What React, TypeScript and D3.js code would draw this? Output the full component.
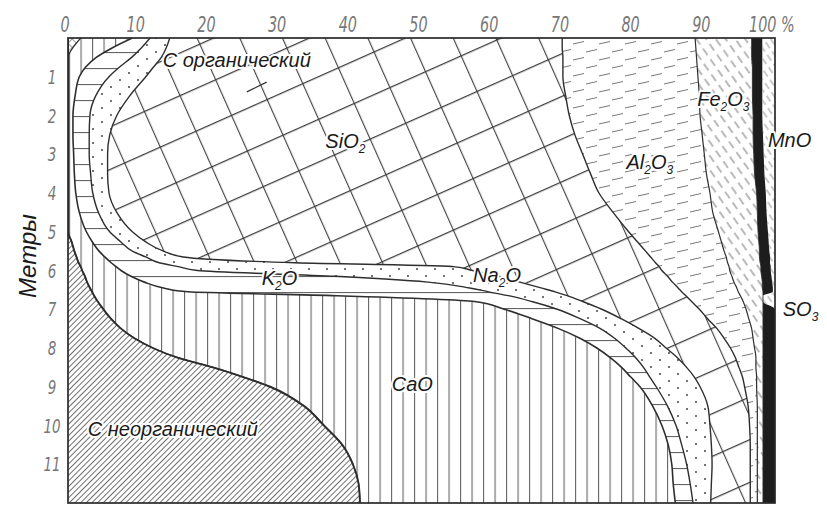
import React from "react";
import * as d3 from "d3";

// Depth below surface, metres
const depths = [0, 0.25, 0.5, 0.75, 1, 1.5, 2, 2.5, 3, 3.5, 4, 4.5, 5, 5.25, 5.5, 5.65, 5.8, 5.9, 6, 6.15, 6.3, 6.45, 6.55, 6.65, 6.8, 7, 7.25, 7.5, 7.75, 8, 8.25, 8.5, 8.75, 9, 9.5, 10, 10.5, 11, 11.5, 12];

// Composition of the profile, % at each depth
const cInorganic = [0, 0, 0, 0, 0, 0, 0, 0, 0, 0, 0, 0, 0, 0.5, 0.9, 1.2, 1.5, 1.8, 2.0, 2.4, 2.7, 3.1, 3.4, 3.7, 4.2, 5.0, 6.1, 7.5, 9.4, 12.0, 15.5, 20.5, 24.8, 28.6, 33.4, 36.2, 38.8, 40.3, 41.1, 41.3];
const cOrganic = [1.8, 0.7, 0, 0, 0, 0, 0, 0, 0, 0, 0, 0, 0, 0, 0, 0, 0, 0, 0, 0, 0, 0, 0, 0, 0, 0, 0, 0, 0, 0, 0, 0, 0, 0, 0, 0, 0, 0, 0, 0];
const cao = [7.3, 5.6, 4.0, 2.5, 1.6, 1.0, 0.7, 0.7, 0.8, 0.9, 1.1, 1.6, 2.6, 2.9, 3.5, 4.0, 4.6, 5.0, 5.5, 6.5, 8.1, 10.4, 13.6, 34.3, 53.3, 56.7, 59.6, 61.9, 63.0, 62.8, 61.2, 57.8, 54.8, 52.3, 49.3, 47.8, 46.1, 45.1, 44.5, 44.6];
const k2o = [2.5, 4.1, 5.0, 4.8, 4.2, 2.9, 2.4, 2.3, 2.2, 2.3, 2.4, 2.7, 3.3, 4.0, 4.7, 5.8, 6.8, 8.8, 10.8, 28.9, 40.1, 43.3, 42.5, 24.3, 8.1, 7.5, 6.8, 5.9, 4.9, 4.1, 3.6, 3.1, 2.7, 2.3, 2.1, 2.0, 1.9, 2.1, 2.4, 2.5];
const na2o = [2.8, 3.5, 4.2, 4.8, 5.2, 4.8, 3.8, 2.9, 2.6, 2.4, 2.3, 2.6, 3.2, 3.5, 4.4, 5.3, 19.2, 38.9, 38.9, 23.1, 13.0, 10.1, 9.4, 8.3, 7.2, 6.3, 5.8, 5.5, 5.7, 5.7, 5.9, 6.1, 6.3, 6.2, 5.7, 4.8, 4.2, 3.6, 3.0, 2.5];
const sio2 = [55.5, 56.0, 56.8, 57.9, 59.0, 61.7, 64.0, 65.8, 67.2, 68.3, 69.3, 70.2, 70.2, 69.6, 68.2, 66.1, 51.0, 29.1, 26.8, 23.9, 21.6, 19.4, 17.9, 16.8, 15.4, 13.8, 12.2, 11.0, 9.8, 9.1, 8.2, 7.4, 6.8, 6.3, 5.7, 5.6, 5.5, 5.4, 5.5, 5.6];
const al2o3 = [18.8, 18.9, 18.9, 19.0, 19.1, 18.9, 18.5, 18.0, 17.2, 16.4, 15.7, 14.1, 12.7, 11.9, 11.1, 10.7, 10.2, 9.9, 9.6, 9.1, 8.7, 8.3, 8.0, 7.7, 7.3, 6.6, 5.8, 4.9, 4.1, 3.4, 2.9, 2.4, 2.0, 1.7, 1.3, 1.1, 1.0, 1.0, 1.0, 1.0];
const fe2o3 = [8.0, 7.9, 7.8, 7.8, 7.7, 7.5, 7.5, 7.2, 7.0, 6.8, 6.6, 6.3, 5.6, 5.3, 5.0, 4.7, 4.6, 4.5, 4.4, 4.2, 4.0, 3.6, 3.5, 3.2, 2.8, 2.4, 2.0, 1.6, 1.4, 1.2, 1.0, 1.0, 0.9, 0.9, 0.8, 0.8, 0.8, 0.8, 0.8, 0.8];
const mno = [1.5, 1.5, 1.5, 1.4, 1.4, 1.4, 1.3, 1.4, 1.4, 1.4, 1.3, 1.3, 1.4, 1.4, 1.4, 1.5, 1.4, 1.4, 1.4, 1.4, 1.4, 1.5, 1.4, 0, 0, 1.7, 1.7, 1.7, 1.7, 1.7, 1.7, 1.7, 1.7, 1.7, 1.7, 1.7, 1.7, 1.7, 1.7, 1.7];
const so3 = [1.8, 1.8, 1.8, 1.8, 1.8, 1.8, 1.8, 1.7, 1.6, 1.5, 1.3, 1.2, 1.0, 0.9, 0.8, 0.7, 0.7, 0.6, 0.6, 0.5, 0.4, 0.3, 0.3, 1.7, 1.7, 0, 0, 0, 0, 0, 0, 0, 0, 0, 0, 0, 0, 0, 0, 0];

const components = ["cInorganic", "cOrganic", "CaO", "K2O", "Na2O", "SiO2", "Al2O3", "Fe2O3", "MnO", "SO3"];
const componentValues: Record<string, number[]> = {
  cInorganic, cOrganic, CaO: cao, K2O: k2o, Na2O: na2o, SiO2: sio2, Al2O3: al2o3, Fe2O3: fe2o3, MnO: mno, SO3: so3,
};

// Axis ticks
const percentTicks = [0, 10, 20, 30, 40, 50, 60, 70, 80, 90, 100];
const depthTicks = [1, 2, 3, 4, 5, 6, 7, 8, 9, 10, 11];

// Field labels: text ("_n" = subscript) placed at [percent, depth]
const fieldLabels: { text: string; at: [number, number] }[] = [
  { text: "С органический", at: [13.4, 0.75] },
  { text: "SiO_2", at: [36.4, 2.84] },
  { text: "Al_2O_3", at: [79.0, 3.37] },
  { text: "Fe_2O_3", at: [89.0, 1.76] },
  { text: "MnO", at: [99.0, 2.82] },
  { text: "SO_3", at: [101.1, 7.17] },
  { text: "Na_2O", at: [57.3, 6.3] },
  { text: "K_2O", at: [27.4, 6.38] },
  { text: "CaO", at: [45.8, 9.12] },
  { text: "С неорганический", at: [2.8, 10.28] },
];

const W = 827;
const H = 506;
const x = d3.scaleLinear().domain([0, 100]).range([68, 775]);
const y = d3.scaleLinear().domain([0, 12]).range([38, 503]);

const layerStyle: Record<string, { fill: string; edge: number }> = {
  cInorganic: { fill: "url(#h-inorg)", edge: 1.9 },
  cOrganic: { fill: "url(#h-org)", edge: 1.2 },
  CaO: { fill: "url(#h-cao)", edge: 1.6 },
  K2O: { fill: "url(#h-k2o)", edge: 1.4 },
  Na2O: { fill: "url(#h-na2o)", edge: 1.4 },
  SiO2: { fill: "url(#h-sio2)", edge: 1.4 },
  Al2O3: { fill: "url(#h-al2o3)", edge: 1.2 },
  Fe2O3: { fill: "url(#h-fe2o3)", edge: 0.9 },
  MnO: { fill: "#1d1d1d", edge: 0 },
  SO3: { fill: "url(#h-so3)", edge: 0 },
};

const labelFont = "'Liberation Sans', Arial, 'DejaVu Sans', sans-serif";
const tickFont = "'Liberation Sans Narrow', 'DejaVu Sans Condensed', 'Liberation Sans', sans-serif";

function ChemText({ text, px, py }: { text: string; px: number; py: number }) {
  const parts = text.split(/(_\d)/).filter((s) => s.length > 0);
  let shifted = false;
  return (
    <text
      x={px}
      y={py}
      fontFamily={labelFont}
      fontStyle="italic"
      fontSize={20}
      fill="#1a1a1a"
      stroke="#fff"
      strokeWidth={4}
      strokeLinejoin="round"
      paintOrder="stroke"
    >
      {parts.map((p, i) => {
        if (p.startsWith("_")) {
          shifted = true;
          return (
            <tspan key={i} dy={5} fontSize={12}>
              {p.slice(1)}
            </tspan>
          );
        }
        const dy = shifted ? -5 : 0;
        shifted = false;
        return (
          <tspan key={i} dy={dy}>
            {p}
          </tspan>
        );
      })}
    </text>
  );
}

export default function App() {
  const rows = depths.map((depth, i) => {
    const row: Record<string, number> = { depth };
    components.forEach((k) => (row[k] = componentValues[k][i]));
    return row;
  });
  const series = d3.stack<Record<string, number>>().keys(components)(rows);

  const area = d3
    .area<d3.SeriesPoint<Record<string, number>>>()
    .y((p) => y(p.data.depth))
    .x0((p) => x(p[0]))
    .x1((p) => x(p[1]))
    .curve(d3.curveMonotoneY);
  const edge = d3
    .line<d3.SeriesPoint<Record<string, number>>>()
    .y((p) => y(p.data.depth))
    .x((p) => x(p[1]))
    .curve(d3.curveMonotoneY);

  const [x0, x1] = x.range();
  const [y0, y1] = y.range();

  return (
    <svg
      width={W}
      height={H}
      viewBox={`0 0 ${W} ${H}`}
      style={{ position: "absolute", left: 0, top: 0, background: "#fff" }}
    >
      <defs>
        <clipPath id="plot-clip">
          <rect x={x0} y={y0} width={x1 - x0} height={y1 - y0} />
        </clipPath>
        <pattern id="h-inorg" patternUnits="userSpaceOnUse" width={4} height={8} patternTransform="rotate(45)">
          <line x1={0.5} y1={0} x2={0.5} y2={8} stroke="#555" strokeWidth={0.85} />
        </pattern>
        <pattern id="h-org" patternUnits="userSpaceOnUse" width={6} height={6} patternTransform="rotate(45)">
          <line x1={0.5} y1={0} x2={0.5} y2={6} stroke="#777" strokeWidth={0.7} />
          <line x1={0} y1={0.5} x2={6} y2={0.5} stroke="#777" strokeWidth={0.7} />
        </pattern>
        <pattern id="h-cao" patternUnits="userSpaceOnUse" width={11.5} height={10}>
          <line x1={0.6} y1={0} x2={0.6} y2={10} stroke="#555" strokeWidth={1} />
        </pattern>
        <pattern id="h-k2o" patternUnits="userSpaceOnUse" width={10} height={16} y={4}>
          <line x1={0} y1={0.6} x2={10} y2={0.6} stroke="#555" strokeWidth={1} />
        </pattern>
        <pattern id="h-na2o" patternUnits="userSpaceOnUse" width={18} height={14}>
          <circle cx={3} cy={3} r={1} fill="#444" />
          <circle cx={12} cy={10} r={1} fill="#444" />
        </pattern>
        <pattern id="h-sio2" patternUnits="userSpaceOnUse" width={39} height={39} patternTransform="rotate(-24) translate(8 4)">
          <line x1={0} y1={0.6} x2={39} y2={0.6} stroke="#3a3a3a" strokeWidth={1.1} />
          <line x1={0.6} y1={0} x2={0.6} y2={39} stroke="#3a3a3a" strokeWidth={1.1} />
        </pattern>
        <pattern id="h-al2o3" patternUnits="userSpaceOnUse" width={26} height={16}>
          <line x1={1} y1={12} x2={12} y2={9.5} stroke="#777" strokeWidth={1} />
          <line x1={14} y1={4} x2={25} y2={1.5} stroke="#777" strokeWidth={1} />
        </pattern>
        <pattern id="h-fe2o3" patternUnits="userSpaceOnUse" width={8} height={13} patternTransform="rotate(-35)">
          <line x1={4} y1={1} x2={4} y2={9} stroke="#666" strokeWidth={0.9} />
        </pattern>
        <pattern id="h-so3" patternUnits="userSpaceOnUse" width={6} height={11} patternTransform="rotate(-35)">
          <line x1={3} y1={1} x2={3} y2={8} stroke="#777" strokeWidth={0.8} />
        </pattern>
      </defs>

      <g clipPath="url(#plot-clip)">
        {series.map((s) => (
          <path key={s.key} d={area(s) ?? ""} fill={layerStyle[s.key].fill} />
        ))}
        {series.map((s) =>
          layerStyle[s.key].edge > 0 ? (
            <path
              key={`e-${s.key}`}
              d={edge(s) ?? ""}
              fill="none"
              stroke="#2e2e2e"
              strokeWidth={layerStyle[s.key].edge}
            />
          ) : null
        )}
        <line
          x1={x(25.3)}
          y1={y(1.39)}
          x2={x(28.1)}
          y2={y(1.14)}
          stroke="#333"
          strokeWidth={1.3}
        />
      </g>

      <rect x={x0} y={y0} width={x1 - x0} height={y1 - y0} fill="none" stroke="#2a2a2a" strokeWidth={1.7} />

      {percentTicks.map((v) => (
        <text
          key={`px-${v}`}
          transform={`translate(${v === 100 ? x(v) - 26 : x(v) - 3},32) scale(1,1.35)`}
          textAnchor={v === 100 ? "start" : "middle"}
          fontFamily={tickFont}
          fontStyle="italic"
          fontSize={16}
          fill="#777"
        >
          {v === 100 ? "100 %" : String(v)}
        </text>
      ))}

      {depthTicks.map((v) => (
        <text
          key={`dy-${v}`}
          transform={`translate(52,${y(v) + 7}) scale(1,1.35)`}
          textAnchor="middle"
          fontFamily={tickFont}
          fontStyle="italic"
          fontSize={15}
          fill="#777"
        >
          {v}
        </text>
      ))}

      <text
        transform="translate(36,256) rotate(-90)"
        textAnchor="middle"
        fontFamily={labelFont}
        fontStyle="italic"
        fontSize={24}
        fill="#1a1a1a"
      >
        Метры
      </text>

      {fieldLabels.map((l) => (
        <ChemText key={l.text} text={l.text} px={x(l.at[0])} py={y(l.at[1])} />
      ))}
    </svg>
  );
}
